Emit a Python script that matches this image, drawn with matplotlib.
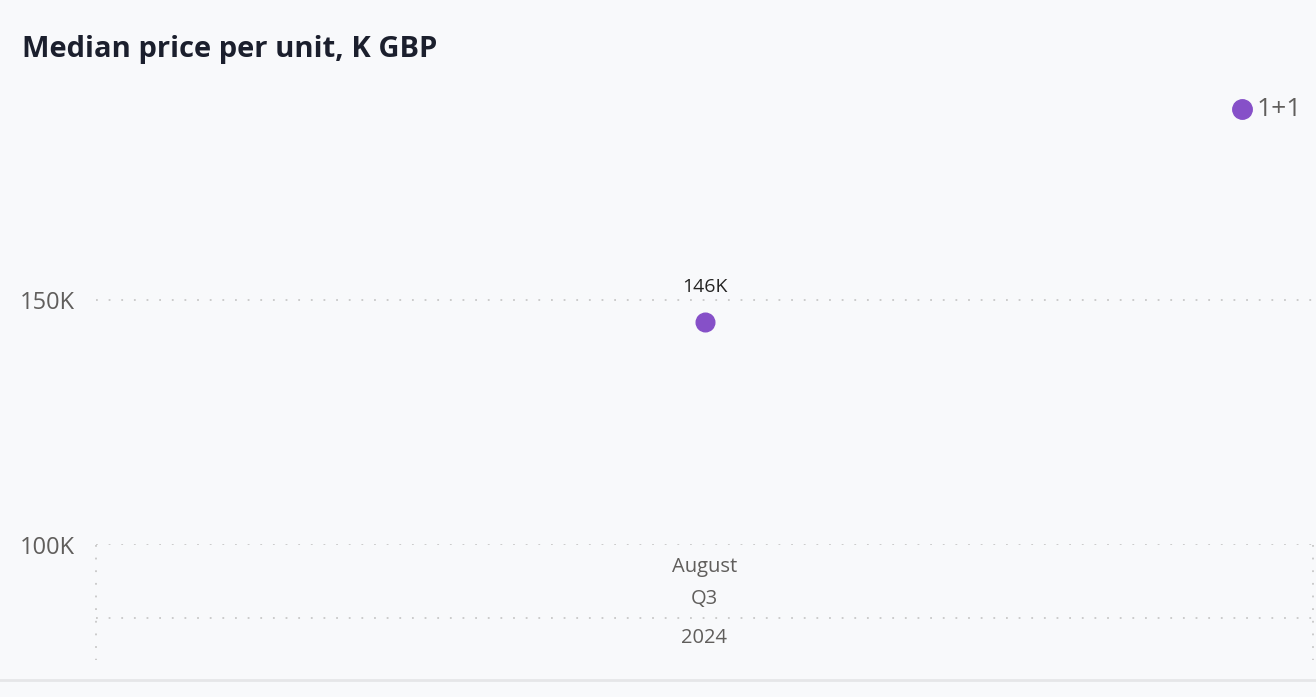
import matplotlib.pyplot as plt

plt.rcParams['font.family'] = ['Open Sans', 'DejaVu Sans']

months = ['August']
quarters = ['Q3']
years = ['2024']
series_name = '1+1'
median_price = [145.5]  # K GBP
y_ticks = [100, 150]

bg = '#f8f9fb'
purple = '#8650c8'
grey = '#605e5c'
dots = '#c8c8c8'

fig = plt.figure(figsize=(13.16, 6.97), dpi=100, facecolor=bg)
# axes box in pixels: left 96, right 1313, bottom y=545, top y=80
W, H = 1316, 697
ax = fig.add_axes([96 / W, 1 - 545 / H, (1313 - 96) / W, (545 - 80) / H])
ax.set_facecolor(bg)

x = list(range(len(months)))
ax.scatter(x, median_price, s=180, color=purple, zorder=3)
for xi, v in zip(x, median_price):
    ax.annotate('%dK' % round(v), (xi, v), xytext=(0, 19), textcoords='offset points',
                ha='center', va='bottom', fontsize=14, color='#252423')

ax.set_xlim(-0.5, len(months) - 0.5)
ax.set_ylim(100, 195)
ax.set_yticks(y_ticks)
ax.set_yticklabels(['%dK' % t for t in y_ticks], fontsize=17, color=grey)
ax.tick_params(axis='y', length=0, pad=15)
ax.set_xticks([])
ax.grid(axis='y', linestyle=(0, (1, 6)), color=dots, linewidth=1.3)
for s in ax.spines.values():
    s.set_visible(False)

# hierarchical category axis below the plot
tr = ax.get_xaxis_transform()
def ypix(p):
    return (545 - p) / (545 - 80)

ax.plot([-0.5, -0.5], [0, ypix(660)], transform=tr, clip_on=False,
        linestyle=(0, (1, 6)), color=dots, linewidth=1.3)
ax.plot([len(months) - 0.5] * 2, [0, ypix(660)], transform=tr, clip_on=False,
        linestyle=(0, (1, 6)), color=dots, linewidth=1.3)
ax.plot([-0.5, len(months) - 0.5], [ypix(618)] * 2, transform=tr, clip_on=False,
        linestyle=(0, (1, 6)), color=dots, linewidth=1.3)
for xi, m, q, yr in zip(x, months, quarters, years):
    ax.text(xi, ypix(567), m, transform=tr, ha='center', va='center', fontsize=14.5, color=grey)
    ax.text(xi, ypix(599), q, transform=tr, ha='center', va='center', fontsize=14.5, color=grey)
    ax.text(xi, ypix(638), yr, transform=tr, ha='center', va='center', fontsize=14.5, color=grey)

# legend
fig.lines.append(plt.Line2D([1242 / W], [1 - 109 / H], marker='o', markersize=14,
                            color=purple, linestyle='none', transform=fig.transFigure))
fig.text(1257 / W, 1 - 110 / H, series_name, fontsize=19, color=grey, va='center', ha='left')

# title
fig.text(22 / W, 1 - 50 / H, 'Median price per unit, K GBP', fontsize=21, fontweight='bold',
         color='#1b1f2d', va='center', ha='left')

# bottom border
fig.lines.append(plt.Line2D([0, 1], [1 - 680 / H] * 2, color='#e6e6e8', linewidth=2,
                            transform=fig.transFigure))

fig.savefig('out.png', dpi=100, facecolor=bg)
